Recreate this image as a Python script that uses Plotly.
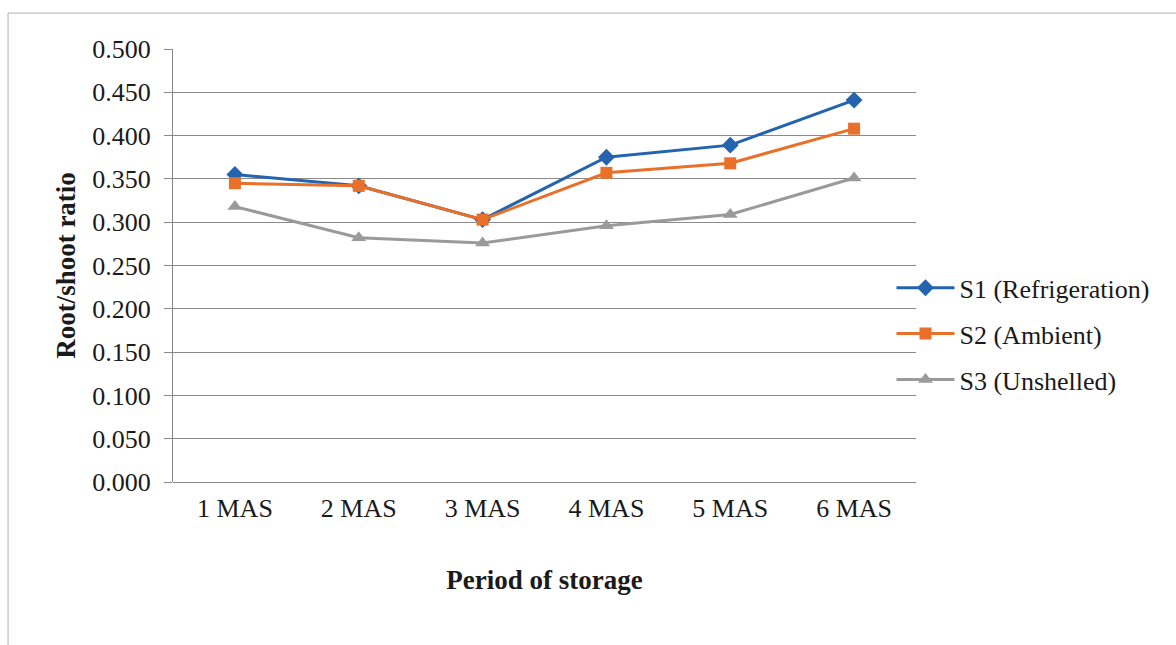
import plotly.graph_objects as go

categories = ["1 MAS", "2 MAS", "3 MAS", "4 MAS", "5 MAS", "6 MAS"]
s1_refrigeration = [0.355, 0.342, 0.303, 0.375, 0.389, 0.441]
s2_ambient = [0.345, 0.342, 0.303, 0.357, 0.368, 0.408]
s3_unshelled = [0.318, 0.282, 0.276, 0.296, 0.309, 0.351]
y_ticks = [0.0, 0.05, 0.1, 0.15, 0.2, 0.25, 0.3, 0.35, 0.4, 0.45, 0.5]

series = [
    ("S1 (Refrigeration)", s1_refrigeration, "#2463ae", "diamond", 13),
    ("S2 (Ambient)", s2_ambient, "#e8702a", "square", 12),
    ("S3 (Unshelled)", s3_unshelled, "#9a9a9a", "triangle-up", 13),
]

font = "Liberation Serif, Times New Roman, serif"
fs = 26
ft = 27
fig = go.Figure()
for i, (name, vals, color, sym, size) in enumerate(series):
    fig.add_trace(go.Scatter(
        x=categories, y=vals, name=name, mode="lines+markers",
        line=dict(color=color, width=3),
        marker=dict(symbol=sym, size=size, color=color),
        legendgroup=f"g{i}",
    ))

fig.update_layout(
    width=1176, height=645,
    margin=dict(l=173, r=260, t=49, b=163),
    paper_bgcolor="white", plot_bgcolor="white",
    font=dict(family=font, size=fs, color="#1a1a1a"),
    showlegend=True,
    legend=dict(x=0.967, y=0.342, xanchor="left", yanchor="middle",
                font=dict(family=font, size=fs, color="#1a1a1a"),
                tracegroupgap=9, itemwidth=58, bgcolor="rgba(0,0,0,0)"),
    xaxis=dict(type="category", range=[-0.5, 5.5], showgrid=False,
               showline=False, ticks="", ticklabelstandoff=8,
               tickfont=dict(family=font, size=fs, color="#1a1a1a"),
               title=dict(text="<b>Period of storage</b>", standoff=48,
                          font=dict(family=font, size=ft, color="#1a1a1a"))),
    yaxis=dict(range=[0, 0.5], tickvals=y_ticks, tickformat=".3f",
               showgrid=True, gridcolor="#8a8a8a", gridwidth=1,
               showline=True, linecolor="#8a8a8a", linewidth=1,
               ticks="outside", ticklen=8, tickcolor="#8a8a8a",
               ticklabelstandoff=8,
               zeroline=True, zerolinecolor="#8a8a8a", zerolinewidth=1,
               tickfont=dict(family=font, size=fs, color="#1a1a1a"),
               title=dict(text="<b>Root/shoot ratio</b>", standoff=8,
                          font=dict(family=font, size=ft, color="#1a1a1a"))),
    shapes=[dict(type="rect", xref="paper", yref="paper",
                 x0=-0.222, x1=1.5, y0=-0.5, y1=1.083,
                 line=dict(color="#b0b0b0", width=1), layer="below")],
)

fig.write_html("out.html")
